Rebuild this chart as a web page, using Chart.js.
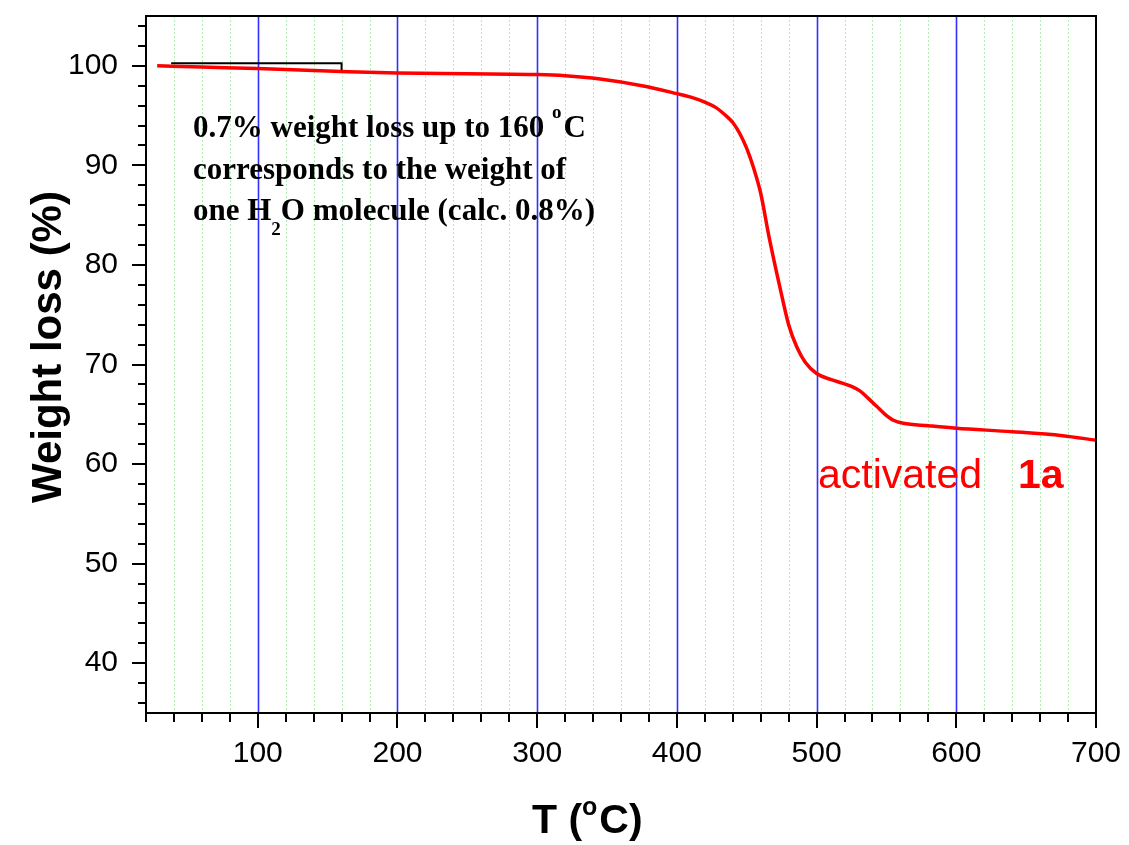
<!DOCTYPE html>
<html>
<head>
<meta charset="utf-8">
<title>TGA activated 1a</title>
<script src="https://cdn.jsdelivr.net/npm/chart.js@4.4.1/dist/chart.umd.min.js"></script>
<style>
  html, body { margin: 0; padding: 0; background: #fff; }
  canvas { display: block; }
</style>
</head>
<body>
<canvas id="tgaChart" width="1129" height="845"></canvas>
<script>
// TGA trace: temperature (°C) and remaining weight (%)
const temperature = [28, 60, 100, 130, 160, 200, 250, 300, 320, 345, 375, 400, 410, 420, 428, 435, 440, 445,
  450, 455, 460, 466, 474, 480, 486, 492, 500, 510, 519, 525, 531, 537, 543, 549, 555, 562, 580, 600, 640, 676, 700];
const weight = [100.0, 99.87, 99.73, 99.58, 99.43, 99.27, 99.2, 99.12, 99.0, 98.67, 98.0, 97.2, 96.85, 96.35, 95.8, 95.0, 94.3, 93.2,
  91.7, 89.7, 87.2, 82.8, 77.6, 74.0, 71.7, 70.2, 69.1, 68.5, 68.1, 67.8, 67.35, 66.6, 65.8, 65.0, 64.4, 64.1, 63.85, 63.6, 63.25, 62.85, 62.4];

// bracket marking the loss up to 160 °C
const stepTemperature = [38, 160, 160];
const stepWeight = [100.25, 100.25, 99.35];

// axis ranges and steps (minor / major)
const xRange = [20, 700];
const yRange = [35, 105];
const xSteps = [20, 100];
const ySteps = [2, 10];

// annotation text, split into normal / superscript / subscript runs
const noteLines = [
  [{ t: '0.7% weight loss up to 160 ' }, { t: 'o', sup: true }, { t: 'C' }],
  [{ t: 'corresponds to the weight of' }],
  [{ t: 'one H' }, { t: '2', sub: true }, { t: 'O molecule (calc. 0.8%)' }]
];
const xTitle = [{ t: 'T (' }, { t: 'o', sup: true }, { t: 'C)' }];
const yTitle = 'Weight loss (%)';
const sampleLabel = ['activated  ', '1a'];

const sans = '"Liberation Sans", Arial, sans-serif';
const serif = '"Liberation Serif", "Times New Roman", serif';

// draw a run of text pieces with simple super/subscripts
function drawRuns(ctx, x, y, runs, size, family, bold, supSize, supRise, subDrop) {
  runs.forEach(r => {
    const s = (r.sup || r.sub) ? supSize : size;
    ctx.font = (bold ? 'bold ' : '') + s + 'px ' + family;
    const dy = r.sup ? -supRise : (r.sub ? subDrop : 0);
    ctx.fillText(r.t, x, y + dy);
    x += ctx.measureText(r.t).width + (r.sup ? 2 : 0);
  });
}

// ticks on every multiple of the minor step inside the range
function stepTicks(scale, step) {
  const list = [];
  for (let v = Math.ceil(scale.min / step) * step; v <= scale.max; v += step) {
    list.push({ value: v });
  }
  scale.ticks = list;
}

// keep the plot box fixed: no extra room for half-labels at the ends
function noEdgePadding(scale) {
  scale.paddingLeft = 0;
  scale.paddingRight = 0;
  scale.paddingTop = 0;
  scale.paddingBottom = 0;
}

const decorPlugin = {
  id: 'decor',
  beforeDraw(chart) {
    const ctx = chart.ctx;
    ctx.save();
    ctx.fillStyle = '#fff';
    ctx.fillRect(0, 0, chart.width, chart.height);
    ctx.restore();
  },
  beforeDatasetsDraw(chart) {
    // vertical grid: blue at every 100, dotted green between
    const { ctx, chartArea: a, scales: { x } } = chart;
    ctx.save();
    x.ticks.forEach(t => {
      const v = t.value;
      if (v <= x.min || v >= x.max) return;
      const px = Math.round(x.getPixelForValue(v)) + 0.5;
      ctx.beginPath();
      if (v % xSteps[1] === 0) {
        ctx.strokeStyle = '#3030ff';
        ctx.lineWidth = 1.6;
        ctx.setLineDash([]);
      } else {
        ctx.strokeStyle = '#aef0ae';
        ctx.lineWidth = 1;
        ctx.setLineDash([2, 2]);
      }
      ctx.moveTo(px, a.top);
      ctx.lineTo(px, a.bottom);
      ctx.stroke();
    });
    ctx.restore();
  },
  afterDatasetsDraw(chart) {
    const { ctx, chartArea: a, scales: { x, y } } = chart;
    ctx.save();

    // frame
    ctx.strokeStyle = '#000';
    ctx.lineWidth = 2;
    ctx.strokeRect(a.left, a.top, a.right - a.left, a.bottom - a.top);

    // outward tick marks
    ctx.beginPath();
    x.ticks.forEach(t => {
      const px = Math.round(x.getPixelForValue(t.value));
      const len = t.value % xSteps[1] === 0 ? 15 : 9;
      ctx.moveTo(px, a.bottom);
      ctx.lineTo(px, a.bottom + len);
    });
    y.ticks.forEach(t => {
      const py = Math.round(y.getPixelForValue(t.value));
      const len = t.value % ySteps[1] === 0 ? 14 : 8;
      ctx.moveTo(a.left, py);
      ctx.lineTo(a.left - len, py);
    });
    ctx.stroke();

    // annotation
    ctx.fillStyle = '#000';
    ctx.textBaseline = 'alphabetic';
    ctx.textAlign = 'left';
    noteLines.forEach((line, i) => {
      drawRuns(ctx, 193, 137 + i * 41.5, line, 31, serif, true, 19, 19, 15);
    });

    // axis titles
    drawRuns(ctx, 532, 833, xTitle, 41, sans, true, 25, 18, 0);
    ctx.save();
    ctx.translate(61, 347);
    ctx.rotate(-Math.PI / 2);
    ctx.textAlign = 'center';
    ctx.font = 'bold 42px ' + sans;
    ctx.fillText(yTitle, 0, 0);
    ctx.restore();

    // sample label
    ctx.fillStyle = '#ff0000';
    ctx.font = '41px ' + sans;
    ctx.fillText(sampleLabel[0], 818, 488);
    ctx.font = 'bold 41px ' + sans;
    ctx.fillText(sampleLabel[1], 1018, 488);

    ctx.restore();
  }
};

const tickFont = { family: sans, size: 30 };

new Chart(document.getElementById('tgaChart'), {
  type: 'line',
  data: {
    datasets: [
      {
        data: temperature.map((t, i) => ({ x: t, y: weight[i] })),
        borderColor: '#ff0000',
        borderWidth: 3.5,
        pointRadius: 0,
        cubicInterpolationMode: 'monotone',
        fill: false
      },
      {
        data: stepTemperature.map((t, i) => ({ x: t, y: stepWeight[i] })),
        borderColor: '#000',
        borderWidth: 2,
        pointRadius: 0,
        tension: 0,
        fill: false
      }
    ]
  },
  options: {
    responsive: false,
    animation: false,
    devicePixelRatio: 1,
    layout: { padding: { left: 0, top: 16, right: 33, bottom: 0 } },
    plugins: { legend: { display: false }, tooltip: { enabled: false } },
    scales: {
      x: {
        type: 'linear',
        min: xRange[0],
        max: xRange[1],
        grid: { display: false, drawTicks: false },
        border: { display: false },
        ticks: {
          autoSkip: false,
          maxRotation: 0,
          padding: 23,
          color: '#000',
          font: tickFont,
          callback: v => (v % xSteps[1] === 0 && v >= 100) ? String(v) : ''
        },
        afterBuildTicks: s => stepTicks(s, xSteps[0]),
        afterFit: s => { s.height = 132; noEdgePadding(s); }
      },
      y: {
        type: 'linear',
        min: yRange[0],
        max: yRange[1],
        grid: { display: false, drawTicks: false },
        border: { display: false },
        ticks: {
          autoSkip: false,
          padding: 28,
          color: '#000',
          font: tickFont,
          callback: v => (v % ySteps[1] === 0) ? String(v) : ''
        },
        afterBuildTicks: s => stepTicks(s, ySteps[0]),
        afterFit: s => { s.width = 146; noEdgePadding(s); }
      }
    }
  },
  plugins: [decorPlugin]
});
</script>
</body>
</html>
